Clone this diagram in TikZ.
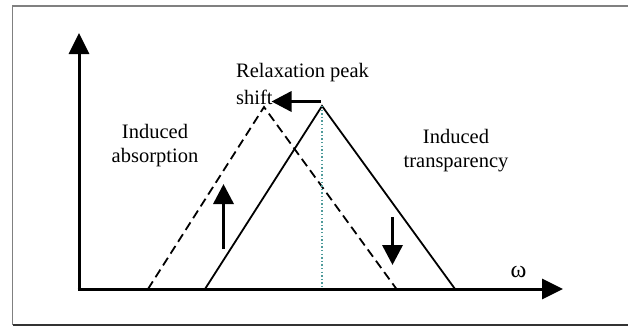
\documentclass[tikz,border=0pt]{standalone}
\usepackage{fontspec}
\setmainfont{Liberation Serif}
\usetikzlibrary{arrows.meta}
\definecolor{framegray}{HTML}{808080}
\definecolor{framedark}{HTML}{333333}
\definecolor{dotteal}{HTML}{4E9A9A}
\tikzset{
  axisline/.style={line width=3pt, -{Triangle[length=21pt,width=20pt]}},
  bigarrow/.style={line width=3.5pt, -{Triangle[length=20pt,width=20pt]}},
  curve/.style={line width=1.8pt, line join=miter},
  dashcurve/.style={line width=1.8pt, dash pattern=on 9pt off 5pt},
  lbl/.style={font=\fontsize{20.5}{24}\selectfont, align=center, inner sep=0pt}
}
\begin{document}
\begin{tikzpicture}[x=1pt,y=-1pt]
\useasboundingbox (0,0) rectangle (628,327);
% frame
\draw[framegray, line width=1.2pt] (12.7,325) -- (12.7,6) -- (628,6);
\draw[framedark, line width=1.2pt] (12.7,325) -- (628,325);
% axes
\coordinate (O) at (79,289);
\coordinate (ytip) at (79,33);
\coordinate (xtip) at (563,289);
\draw[axisline] (O) -- (ytip);
\draw[axisline] ([xshift=-1.5pt]O) -- (xtip);
% solid triangle
\coordinate (sL) at (205,289);
\coordinate (sP) at (322,106);
\coordinate (sR) at (455,289);
\draw[curve] (sL) -- (sP) -- (sR);
% dashed triangle
\coordinate (dL) at (148,289);
\coordinate (dP) at (264,107);
\coordinate (dR) at (396.5,289);
\draw[dashcurve] (dL) -- (dP) -- (dR);
% dotted centre line
\coordinate (cB) at (322,289);
\draw[dotteal, line width=1.4pt, dash pattern=on 1.4pt off 2.2pt] (sP) -- (cB);
% arrows
\coordinate (shA) at (321,101.5);
\coordinate (shB) at (271.5,101.5);
\draw[bigarrow] (shA) -- (shB);
\coordinate (upA) at (223.5,249);
\coordinate (upB) at (223.5,184);
\draw[bigarrow] (upA) -- (upB);
\coordinate (dnA) at (392.5,217);
\coordinate (dnB) at (392.5,265);
\draw[bigarrow] (dnA) -- (dnB);
% labels
\node[lbl, anchor=west] (relax) at (236,72.7) {Relaxation peak};
\node[lbl, anchor=west] (shift) at (236,97) {shift};
\node[lbl] (abs) at (155,146) {Induced\\absorption};
\node[lbl] (trans) at (456,150.5) {Induced\\transparency};
\node[lbl, font=\fontsize{24}{24}\selectfont] (omega) at (518.5,271.5) {ω};
\end{tikzpicture}
\end{document}
